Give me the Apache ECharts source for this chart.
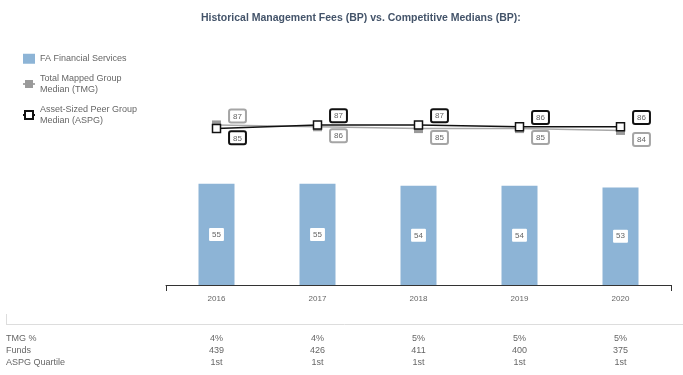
<!DOCTYPE html>
<html>
<head>
<meta charset="utf-8">
<script src="https://cdn.jsdelivr.net/npm/echarts@6/dist/echarts.min.js"></script>
<style>
  html, body { margin: 0; padding: 0; background: #fff; }
  #chart { width: 683px; height: 375px; }
</style>
</head>
<body>
<div id="chart"></div>
<script>
// data
var years = ['2016', '2017', '2018', '2019', '2020'];
var faFees = [55, 55, 54, 54, 53];
var tmgMedian = [87, 86, 85, 85, 84];
var aspgMedian = [85, 87, 87, 86, 86];
var tmgPct = ['4%', '4%', '5%', '5%', '5%'];
var funds = ['439', '426', '411', '400', '375'];
var aspgQuartile = ['1st', '1st', '1st', '1st', '1st'];
// which side the median labels sit on
var tmgLabelPos = ['top', 'bottom', 'bottom', 'bottom', 'bottom'];
var aspgLabelPos = ['bottom', 'top', 'top', 'top', 'top'];

var FONT = 'Liberation Sans, Arial, sans-serif';
var TXT = '#666';

function boxLabel(border) {
  return {
    show: true,
    color: TXT,
    fontSize: 8,
    fontFamily: FONT,
    backgroundColor: '#fff',
    borderColor: border,
    borderWidth: 2,
    borderRadius: 1,
    padding: [2, 3, 1, 3],
    distance: -1,
    offset: [21, 0]
  };
}

function lineData(vals, pos) {
  return vals.map(function (v, i) {
    return { value: v, label: { position: pos[i] } };
  });
}

function tableAxis(vals, offset) {
  return {
    type: 'category',
    data: vals,
    position: 'bottom',
    offset: offset,
    axisLine: { show: false },
    axisTick: { show: false },
    axisLabel: { color: TXT, fontSize: 9, fontFamily: FONT, margin: 0 }
  };
}

var chart = echarts.init(document.getElementById('chart'));
var option = {
  animation: false,
  textStyle: { fontFamily: FONT },
  title: {
    text: 'Historical Management Fees (BP) vs. Competitive Medians (BP):',
    left: 196,
    top: 8,
    textStyle: { color: '#44546a', fontSize: 10.5, fontWeight: 'bold', fontFamily: FONT }
  },
  legend: {
    orient: 'vertical',
    left: 22,
    top: 53,
    padding: 0,
    itemWidth: 12,
    itemHeight: 10,
    itemGap: 8,
    textStyle: { color: TXT, fontSize: 9, lineHeight: 11.5, fontFamily: FONT },
    data: [
      { name: 'FA Financial Services', icon: 'rect' },
      'Total Mapped Group\nMedian (TMG)',
      'Asset-Sized Peer Group\nMedian (ASPG)'
    ]
  },
  grid: { left: 166, right: 12, top: 101, bottom: 90 },
  xAxis: [
    {
      type: 'category',
      data: years,
      axisLine: { lineStyle: { color: '#333', width: 1 } },
      axisTick: { show: true, length: 6, interval: 4, lineStyle: { color: '#333' } },
      axisLabel: { color: TXT, fontSize: 8, margin: 10, fontFamily: FONT }
    },
    tableAxis(tmgPct, 49),
    tableAxis(funds, 61),
    tableAxis(aspgQuartile, 73)
  ],
  yAxis: { type: 'value', min: 0, max: 100, show: false },
  series: [
    {
      name: 'FA Financial Services',
      type: 'bar',
      data: faFees,
      barWidth: 36,
      itemStyle: { color: '#8db4d6' },
      label: {
        show: true,
        position: 'inside',
        color: TXT,
        fontSize: 8,
        backgroundColor: '#fff',
        padding: [3, 3, 2, 3],
        borderRadius: 1
      }
    },
    {
      name: 'Total Mapped Group\nMedian (TMG)',
      type: 'line',
      data: lineData(tmgMedian, tmgLabelPos),
      symbol: 'rect',
      symbolSize: 9,
      showAllSymbol: true,
      lineStyle: { color: '#a8a8a8', width: 1.5 },
      itemStyle: { color: '#9a9a9a', borderWidth: 0 },
      label: boxLabel('#a5a5a5'),
      z: 3
    },
    {
      name: 'Asset-Sized Peer Group\nMedian (ASPG)',
      type: 'line',
      data: lineData(aspgMedian, aspgLabelPos),
      symbol: 'rect',
      symbolSize: 8,
      lineStyle: { color: '#111', width: 1.5 },
      itemStyle: { color: '#fff', borderColor: '#111', borderWidth: 1.5 },
      label: boxLabel('#111'),
      z: 4
    }
  ],
  graphic: [
    { type: 'line', shape: { x1: 6, y1: 324.5, x2: 683, y2: 324.5 }, style: { stroke: '#ddd', lineWidth: 1 } },
    { type: 'line', shape: { x1: 6.5, y1: 314, x2: 6.5, y2: 325 }, style: { stroke: '#ddd', lineWidth: 1 } },
    { type: 'text', left: 6, top: 334, style: { text: 'TMG %', fill: TXT, font: '9px ' + FONT } },
    { type: 'text', left: 6, top: 346, style: { text: 'Funds', fill: TXT, font: '9px ' + FONT } },
    { type: 'text', left: 6, top: 358, style: { text: 'ASPG Quartile', fill: TXT, font: '9px ' + FONT } }
  ]
};
chart.setOption(option);
</script>
</body>
</html>
